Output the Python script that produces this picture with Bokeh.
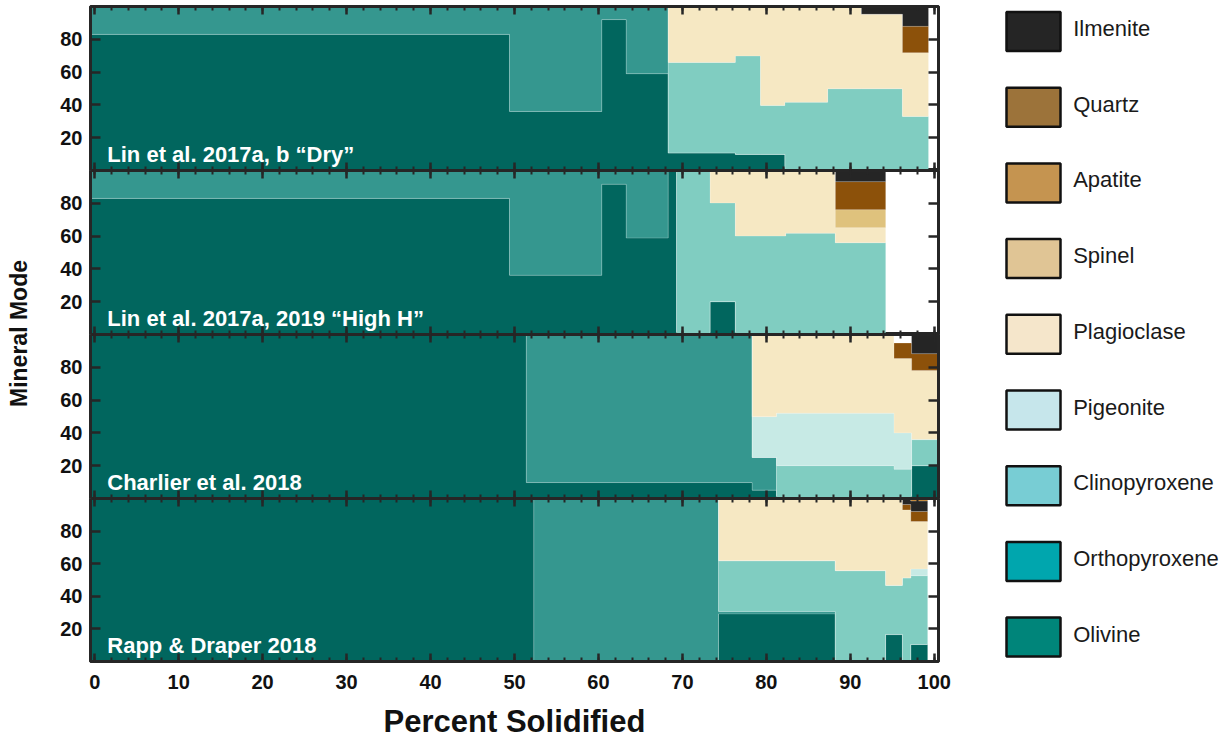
from bokeh.plotting import figure
from bokeh.models import (Range1d, LinearAxis, SingleIntervalTicker, FixedTicker,
                          ColumnDataSource)
from bokeh.layouts import row, column
from bokeh.embed import file_html
from bokeh.resources import INLINE
from bokeh.core.properties import value
import math

# ---------------------------------------------------------------- data
# Stacking order of the mineral layers, bottom to top
stack_order = ["Olivine", "Orthopyroxene", "Clinopyroxene", "Pigeonite",
               "Plagioclase", "Spinel", "Quartz", "Ilmenite", "Apatite"]

# Legend order, top to bottom
legend_names = ["Ilmenite", "Quartz", "Apatite", "Spinel", "Plagioclase",
                "Pigeonite", "Clinopyroxene", "Orthopyroxene", "Olivine"]

# Fill colours of the stacked areas
area_colors = {
    "Olivine": "#01665e", "Orthopyroxene": "#35978f", "Clinopyroxene": "#80cdc1",
    "Pigeonite": "#c7eae5", "Plagioclase": "#f6e8c3", "Spinel": "#dfc27d",
    "Apatite": "#bf812d", "Quartz": "#8c510a", "Ilmenite": "#252525",
}

# Swatch colours of the key
swatch_colors = ["#252525", "#9c733a", "#c59450", "#e0c595", "#f5e6cb",
                 "#c6e6eb", "#78cdd4", "#00a6ae", "#00857a"]

panel_titles = ["Lin et al. 2017a, b \u201cDry\u201d",
                "Lin et al. 2017a, 2019 \u201cHigh H\u201d",
                "Charlier et al. 2018",
                "Rapp & Draper 2018"]

# Lin et al. 2017a, b "Dry": step edges (% solidified) and modes (%) per step
dry_x = [-0.5, 49.4, 60.4, 63.3, 68.3, 76.3, 79.3, 82.2, 87.3, 91.3, 96.2, 99.3]
dry_ol = [83, 36, 92, 59, 10.6, 9.8, 9.8, 0, 0, 0, 0]
dry_opx = [17, 64, 8, 41, 0, 0, 0, 0, 0, 0, 0]
dry_cpx = [0, 0, 0, 0, 55.3, 60, 29.8, 41.6, 49.8, 49.8, 32.9]
dry_plag = [0, 0, 0, 0, 34.1, 30.2, 60.4, 58.4, 50.2, 45.4, 38.9]
dry_qtz = [0, 0, 0, 0, 0, 0, 0, 0, 0, 0, 16.1]
dry_ilm = [0, 0, 0, 0, 0, 0, 0, 0, 0, 4.8, 12.1]

# Lin et al. 2017a, 2019 "High H"
hh_x = [-0.5, 49.4, 60.4, 63.3, 68.3, 69.3, 73.3, 76.3, 82.3, 88.2, 94.2]
hh_ol = [83, 36.1, 91.6, 58.8, 100, 0, 20, 0, 0, 0]
hh_opx = [17, 63.9, 8.4, 41.2, 0, 0, 0, 0, 0, 0]
hh_cpx = [0, 0, 0, 0, 0, 100, 60.2, 60, 61.8, 55.9]
hh_plag = [0, 0, 0, 0, 0, 0, 19.8, 40, 38.2, 9.2]
hh_spl = [0, 0, 0, 0, 0, 0, 0, 0, 0, 11]
hh_qtz = [0, 0, 0, 0, 0, 0, 0, 0, 0, 17.1]
hh_ilm = [0, 0, 0, 0, 0, 0, 0, 0, 0, 6.8]

# Charlier et al. 2018
ch_x = [-0.5, 51.4, 78.3, 81.2, 95.2, 97.3, 100.5]
ch_ol = [100, 9.7, 5.1, 0, 0, 20]
ch_opx = [0, 90.3, 19.9, 0, 0, 0]
ch_cpx = [0, 0, 0, 20, 17.9, 15.9]
ch_pig = [0, 0, 24.9, 32, 22.1, 0]
ch_plag = [0, 0, 50.1, 48, 45.3, 42.2]
ch_qtz = [0, 0, 0, 0, 9.5, 10.2]
ch_ilm = [0, 0, 0, 0, 0, 11.7]

# Rapp & Draper 2018
rd_x = [-0.5, 52.3, 74.3, 88.2, 94.2, 96.2, 97.2, 99.2]
rd_ol = [100, 0, 29.2, 0, 16.5, 0, 10.4]
rd_opx = [0, 100, 1.4, 0, 0, 0, 0]
rd_cpx = [0, 0, 31.2, 55.7, 30.2, 51.2, 42.2]
rd_pig = [0, 0, 0, 0, 0, 0, 4.1]
rd_plag = [0, 0, 38.2, 44.3, 53.3, 41.8, 29.2]
rd_qtz = [0, 0, 0, 0, 0, 3.3, 6.1]
rd_ilm = [0, 0, 0, 0, 0, 3.7, 6.4]
rd_ap = [0, 0, 0, 0, 0, 0, 1.6]

panels = [
    (dry_x, {"Olivine": dry_ol, "Orthopyroxene": dry_opx, "Clinopyroxene": dry_cpx,
             "Plagioclase": dry_plag, "Quartz": dry_qtz, "Ilmenite": dry_ilm}),
    (hh_x, {"Olivine": hh_ol, "Orthopyroxene": hh_opx, "Clinopyroxene": hh_cpx,
            "Plagioclase": hh_plag, "Spinel": hh_spl, "Quartz": hh_qtz, "Ilmenite": hh_ilm}),
    (ch_x, {"Olivine": ch_ol, "Orthopyroxene": ch_opx, "Clinopyroxene": ch_cpx,
            "Pigeonite": ch_pig, "Plagioclase": ch_plag, "Quartz": ch_qtz, "Ilmenite": ch_ilm}),
    (rd_x, {"Olivine": rd_ol, "Orthopyroxene": rd_opx, "Clinopyroxene": rd_cpx,
            "Pigeonite": rd_pig, "Plagioclase": rd_plag, "Quartz": rd_qtz,
            "Ilmenite": rd_ilm, "Apatite": rd_ap}),
]

# ---------------------------------------------------------------- styling
FONT = "Liberation Sans"
INK = "#262626"


def style_axis(ax, tick_in, minor_in, show_labels):
    ax.axis_line_color = INK
    ax.axis_line_width = 3
    ax.major_tick_line_color = INK
    ax.major_tick_line_width = 2.5
    ax.minor_tick_line_color = INK
    ax.minor_tick_line_width = 2
    ax.major_tick_out = 0
    ax.minor_tick_out = 0
    ax.major_tick_in = tick_in
    ax.minor_tick_in = minor_in
    if show_labels:
        ax.major_label_text_font = FONT
        ax.major_label_text_font_style = "bold"
        ax.major_label_text_font_size = "20px"
        ax.major_label_text_color = "#111111"
    else:
        # tick marks only: labels are neither drawn nor given room
        ax.major_label_text_font_size = "0px"
        ax.major_label_text_color = None
        ax.major_label_standoff = 0


def x_ticker():
    return SingleIntervalTicker(interval=10, num_minor_ticks=5)


def y_ticker():
    return FixedTicker(ticks=[20, 40, 60, 80], minor_ticks=[])


figs = []
n_panels = len(panels)
for i, (edges, modes) in enumerate(panels):
    last = i == n_panels - 1
    p = figure(frame_width=848, frame_height=163 if last else 164,
               x_range=Range1d(-0.5, 100.5), y_range=Range1d(0, 100),
               x_axis_type=None, y_axis_type=None,
               output_backend="svg", toolbar_location=None,
               min_border_left=54, min_border_right=30,
               min_border_top=6 if i == 0 else 0,
               min_border_bottom=0)
    p.outline_line_color = INK
    p.outline_line_width = 3
    p.background_fill_color = "white"
    p.border_fill_color = "white"

    # stacked step areas
    n = len(edges) - 1
    base = [0.0] * n
    tops = []
    for name in stack_order:
        vals = modes.get(name)
        if vals is None:
            continue
        top = [b + v for b, v in zip(base, vals)]
        src = ColumnDataSource(dict(x=edges,
                                    y1=base + [base[-1]],
                                    y2=top + [top[-1]]))
        p.varea_step(x="x", y1="y1", y2="y2", step_mode="after", source=src,
                     fill_color=area_colors[name])
        tops.append(top)
        base = top
    # faint outlines along the layer boundaries
    for top in tops[:-1]:
        p.step(x=edges, y=top + [top[-1]], mode="after",
               line_color="white", line_alpha=0.22, line_width=1)

    p.text(x=[1.5], y=[10], text=[panel_titles[i]], text_color="white",
           text_font=value(FONT), text_font_style="bold", text_font_size="22px",
           text_baseline="alphabetic", text_align="left")

    ax_b = LinearAxis(ticker=x_ticker())
    style_axis(ax_b, 8, 4, last)
    if last:
        ax_b.major_label_standoff = 13
        ax_b.axis_label = "Percent Solidified"
        ax_b.axis_label_text_font = FONT
        ax_b.axis_label_text_font_style = "bold"
        ax_b.axis_label_text_font_size = "31px"
        ax_b.axis_label_text_color = "#111111"
        ax_b.axis_label_standoff = 12
    p.add_layout(ax_b, "below")

    ax_t = LinearAxis(ticker=x_ticker())
    style_axis(ax_t, 8, 4, False)
    p.add_layout(ax_t, "above")

    ax_l = LinearAxis(ticker=y_ticker())
    style_axis(ax_l, 10, 0, True)
    ax_l.major_label_standoff = 8
    p.add_layout(ax_l, "left")

    ax_r = LinearAxis(ticker=y_ticker())
    style_axis(ax_r, 10, 0, False)
    p.add_layout(ax_r, "right")

    figs.append(p)

# y-axis title shared by the four panels
ylab = figure(width=36, height=740, x_range=Range1d(0, 36), y_range=Range1d(0, 740),
              x_axis_type=None, y_axis_type=None, output_backend="svg",
              toolbar_location=None, min_border=0)
ylab.outline_line_color = None
ylab.text(x=[18], y=[407], text=["Mineral Mode"], angle=math.pi / 2,
          text_font=value(FONT), text_font_style="bold", text_font_size="23px",
          text_color="#111111", text_align="center", text_baseline="middle")

# key on the right
spacing = 75.7
key = figure(width=260, height=740, x_range=Range1d(0, 260),
             y_range=Range1d(start=(740 - 31) / spacing, end=-31 / spacing),
             x_axis_type=None, y_axis_type=None, output_backend="svg",
             toolbar_location=None, min_border=0)
key.outline_line_color = None
key_idx = list(range(len(legend_names)))
key_src = ColumnDataSource(dict(y=key_idx, name=legend_names, color=swatch_colors))
key.rect(x=65, y="y", width=54, height=39, width_units="screen", height_units="screen",
         fill_color="color", line_color="#111111", line_width=2.5, source=key_src)
key.text(x=104.7, y="y", text="name", source=key_src, text_font=value(FONT),
         text_font_size="22px", text_color="#1a1a1a", text_baseline="middle",
         y_offset=-3)

layout = row(ylab, column(*figs, spacing=0), key, spacing=0)

open("out.html", "w").write(file_html(layout, INLINE))
